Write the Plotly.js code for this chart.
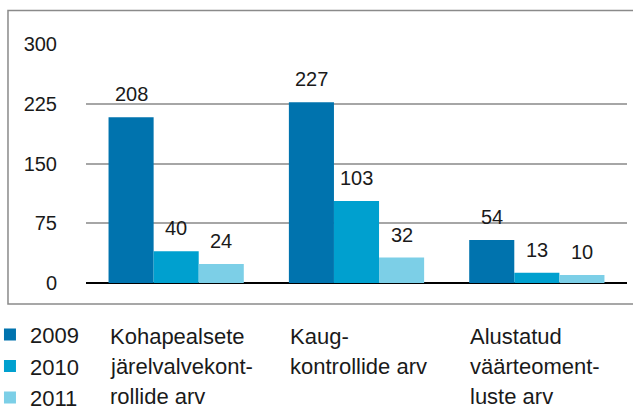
<!DOCTYPE html>
<html>
<head>
<meta charset="utf-8">
<script src="https://cdn.plot.ly/plotly-3.0.1.min.js"></script>
<style>html,body{margin:0;padding:0;background:#fff;}#chart{width:633px;height:410px;}</style>
</head>
<body>
<div id="chart"></div>
<script>
var categoryLines = [
  ["Kohapealsete", "järelvalvekont-", "rollide arv"],
  ["Kaug-", "kontrollide arv"],
  ["Alustatud", "väärteoment-", "luste arv"]
];
var categoryKeys = ["A", "B", "C"];
var years = ["2009", "2010", "2011"];
var values2009 = [208, 227, 54];
var values2010 = [40, 103, 13];
var values2011 = [24, 32, 10];
var yTicks = [0, 75, 150, 225, 300];

var seriesValues = [values2009, values2010, values2011];
var colors = ["#0073AE", "#00A0CF", "#7CCFE7"];
var FONT = "Liberation Sans, Arial, sans-serif";

var traces = years.map(function (yr, i) {
  return {
    type: "bar",
    name: yr,
    x: categoryKeys,
    y: seriesValues[i],
    marker: {color: colors[i]},
    legendgroup: "g" + i,
    hoverinfo: "skip"
  };
});

var barW = 541 / 3 * 0.25;
var annotations = [];
seriesValues.forEach(function (vals, i) {
  vals.forEach(function (v, j) {
    annotations.push({
      x: categoryKeys[j], y: v, xref: "x", yref: "y",
      text: String(v), showarrow: false,
      xanchor: "center", yanchor: "bottom",
      xshift: (i - 1) * barW, yshift: 10,
      font: {family: FONT, size: 20, color: "#1a1a1a"}
    });
  });
});
categoryLines.forEach(function (lines, j) {
  lines.forEach(function (line, k) {
    annotations.push({
      x: j - 0.375, y: 0, xref: "x", yref: "paper",
      text: line, showarrow: false, xanchor: "left", yanchor: "middle", align: "left",
      yshift: -(53 + 30 * k), borderpad: 0,
      font: {family: FONT, size: 22, color: "#1a1a1a"}
    });
  });
});

var layout = {
  width: 633, height: 410,
  margin: {l: 86, r: 6, t: 44, b: 127, autoexpand: false},
  paper_bgcolor: "#fff", plot_bgcolor: "#fff",
  barmode: "group", bargap: 0.25, bargroupgap: 0,
  showlegend: true,
  legend: {
    x: -0.1775, xanchor: "left", y: -0.128, yanchor: "top",
    font: {family: FONT, size: 22, color: "#1a1a1a"},
    tracegroupgap: 0, bgcolor: "rgba(0,0,0,0)"
  },
  xaxis: {
    showticklabels: false, showgrid: false, showline: false, zeroline: false,
    ticks: "", fixedrange: true
  },
  yaxis: {
    range: [0, 300], tickvals: yTicks, ticktext: yTicks.map(String),
    showgrid: true, gridcolor: "#a6a6a6", gridwidth: 2,
    zeroline: true, zerolinecolor: "#000", zerolinewidth: 2.5,
    showline: false, ticks: "", ticklabelstandoff: 28,
    tickfont: {family: FONT, size: 20, color: "#1a1a1a"}, fixedrange: true
  },
  shapes: [{
    type: "rect", xref: "paper", yref: "paper",
    x0: -0.1442, x1: 1.02, y0: -0.0879, y1: 1.140,
    line: {color: "#8a8a8a", width: 1.5}, fillcolor: "rgba(0,0,0,0)", layer: "below"
  }],
  annotations: annotations
};

Plotly.newPlot("chart", traces, layout, {displayModeBar: false, staticPlot: true});
</script>
</body>
</html>
